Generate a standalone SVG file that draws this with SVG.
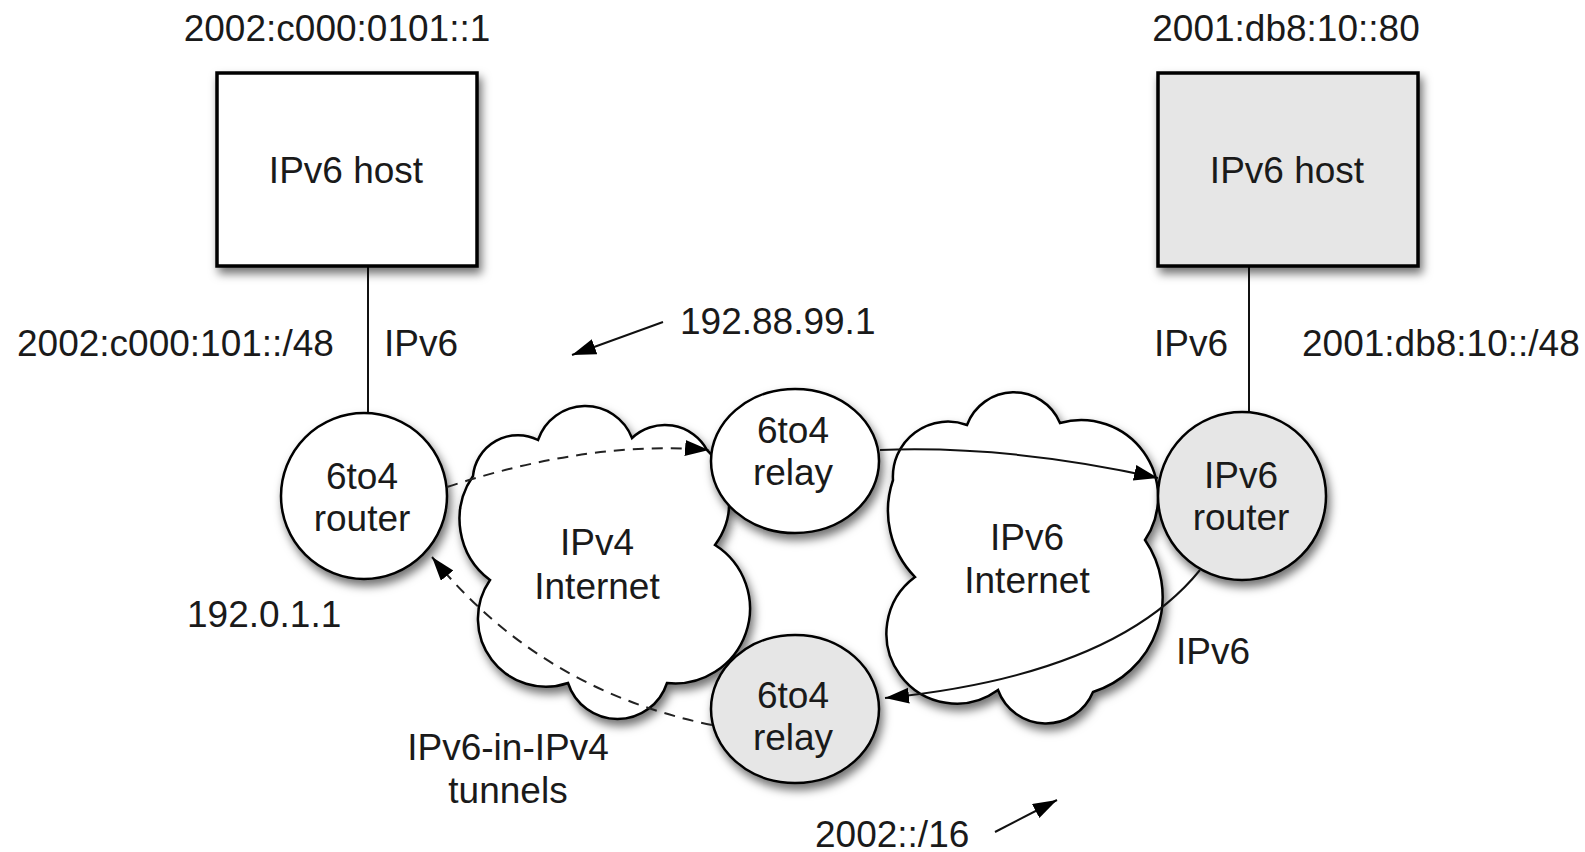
<svg xmlns="http://www.w3.org/2000/svg" width="1585" height="852" viewBox="0 0 1585 852">
<defs>
<filter id="sh" x="-20%" y="-20%" width="150%" height="150%">
<feDropShadow dx="3" dy="6" stdDeviation="5" flood-color="#000" flood-opacity="0.55"/>
</filter>
<marker id="ah" markerUnits="userSpaceOnUse" markerWidth="26" markerHeight="18" refX="24" refY="8" orient="auto">
<path d="M0,0 L24,8 L0,16 z" fill="#000"/>
</marker>
</defs>
<style>
text{font-family:"Liberation Sans",Arial,sans-serif;font-size:37px;fill:#1a1a1a}
.c{text-anchor:middle}
.box{stroke:#000;stroke-width:3.5}
.node{stroke:#000;stroke-width:2.5}
.w{fill:#fff}
.g{fill:#e6e6e6}
.ln{fill:none;stroke:#111;stroke-width:2}
.dash{fill:none;stroke:#222;stroke-width:2;stroke-dasharray:11 8}
</style>
<rect width="1585" height="852" fill="#fff"/>

<g id="links-vertical">
<line class="ln" x1="368" y1="266" x2="368" y2="413"/>
<line class="ln" x1="1249" y1="266" x2="1249" y2="413"/>
</g>

<g id="ipv4-internet">
<path class="node w" filter="url(#sh)" d="M473,476 A45,45 0 0 1 538,440 A50,50 0 0 1 632,438 A48,48 0 0 1 707,450 A72,72 0 0 1 715,545 A75,75 0 0 1 667,683 A52,52 0 0 1 568,683 A68,68 0 0 1 490,580 A76,76 0 0 1 473,476 Z"/>
<text class="c" x="597" y="555">IPv4</text>
<text class="c" x="597" y="599">Internet</text>
</g>

<g id="ipv6-internet">
<path class="node w" filter="url(#sh)" d="M893,480 A55,55 0 0 1 967,425 A50,50 0 0 1 1060,423 A77,77 0 0 1 1145,540 A100,100 0 0 1 1093,692 A51,51 0 0 1 998,690 A70,70 0 0 1 915,577 A95,95 0 0 1 893,480 Z"/>
<text class="c" x="1027" y="550">IPv6</text>
<text class="c" x="1027" y="593">Internet</text>
</g>

<g id="host-left">
<rect class="box w" filter="url(#sh)" x="217" y="73" width="260" height="193"/>
<text class="c" x="346" y="183">IPv6 host</text>
</g>

<g id="host-right">
<rect class="box g" filter="url(#sh)" x="1158" y="73" width="260" height="193"/>
<text class="c" x="1287" y="183">IPv6 host</text>
</g>

<g id="router-6to4">
<circle class="node w" filter="url(#sh)" cx="364" cy="496" r="83"/>
<text class="c" x="362" y="489">6to4</text>
<text class="c" x="362" y="531">router</text>
</g>

<g id="relay-top">
<ellipse class="node w" filter="url(#sh)" cx="795" cy="461" rx="84" ry="72"/>
<text class="c" x="793" y="443">6to4</text>
<text class="c" x="793" y="485">relay</text>
</g>

<g id="relay-bottom">
<ellipse class="node g" filter="url(#sh)" cx="795" cy="709" rx="84" ry="74"/>
<text class="c" x="793" y="708">6to4</text>
<text class="c" x="793" y="750">relay</text>
</g>

<g id="router-ipv6">
<circle class="node g" filter="url(#sh)" cx="1242" cy="496" r="84"/>
<text class="c" x="1241" y="488">IPv6</text>
<text class="c" x="1241" y="530">router</text>
</g>

<g id="connectors">
<path class="dash" d="M447,487 Q590,440 709,450" marker-end="url(#ah)"/>
<path class="dash" d="M712,725 Q540,690 432,557" marker-end="url(#ah)"/>
<path class="ln" d="M880,450 Q1010,445 1158,478" marker-end="url(#ah)"/>
<path class="ln" d="M1200,570 Q1115,675 885,698" marker-end="url(#ah)"/>
<line class="ln" x1="663" y1="322" x2="572" y2="355" marker-end="url(#ah)"/>
<line class="ln" x1="995" y1="832" x2="1057" y2="800" marker-end="url(#ah)"/>
</g>

<g id="labels">
<text class="c" x="337" y="41">2002:c000:0101::1</text>
<text class="c" x="1286" y="41">2001:db8:10::80</text>
<text x="17" y="356">2002:c000:101::/48</text>
<text x="384" y="356">IPv6</text>
<text x="1154" y="356">IPv6</text>
<text x="1302" y="356">2001:db8:10::/48</text>
<text x="680" y="334">192.88.99.1</text>
<text x="187" y="627">192.0.1.1</text>
<text class="c" x="508" y="760">IPv6-in-IPv4</text>
<text class="c" x="508" y="803">tunnels</text>
<text x="1176" y="664">IPv6</text>
<text x="815" y="847">2002::/16</text>
</g>
</svg>
